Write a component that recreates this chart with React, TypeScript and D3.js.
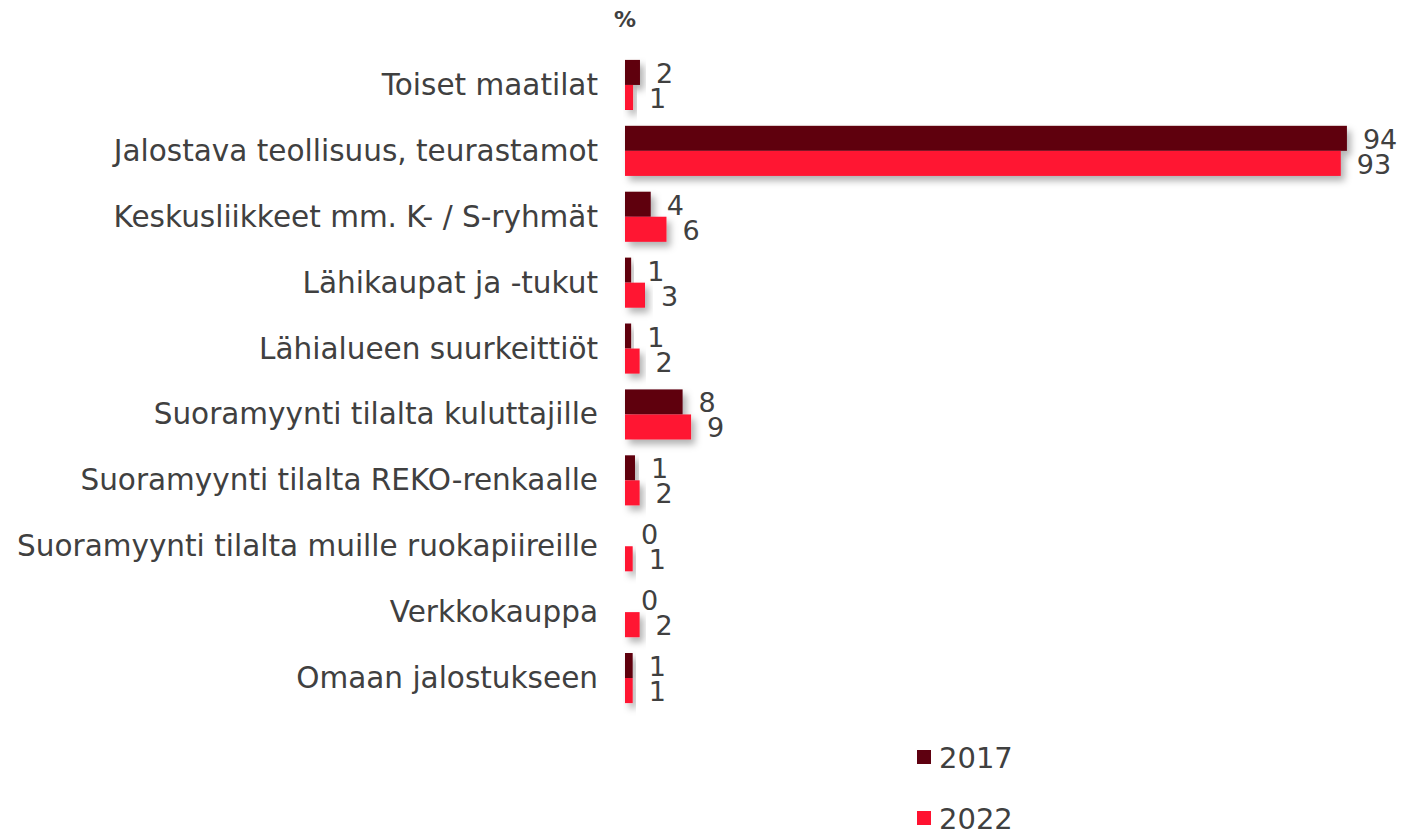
import React from "react";
import * as d3 from "d3";

const categories = [
  "Toiset maatilat",
  "Jalostava teollisuus, teurastamot",
  "Keskusliikkeet mm. K- / S-ryhmät",
  "Lähikaupat ja -tukut",
  "Lähialueen suurkeittiöt",
  "Suoramyynti tilalta kuluttajille",
  "Suoramyynti tilalta REKO-renkaalle",
  "Suoramyynti tilalta muille ruokapiireille",
  "Verkkokauppa",
  "Omaan jalostukseen",
];
const values2017 = [1.95, 94.0, 3.35, 0.8, 0.8, 7.5, 1.3, 0, 0, 1.0];
const values2022 = [1.05, 93.2, 5.4, 2.6, 1.9, 8.6, 1.9, 1.0, 1.9, 1.0];
const labels2017 = ["2", "94", "4", "1", "1", "8", "1", "0", "0", "1"];
const labels2022 = ["1", "93", "6", "3", "2", "9", "2", "1", "2", "1"];
const seriesNames = ["2017", "2022"];
const colors = ["#5e0010", "#ff1230"];

export default function App() {
  const W = 1401, H = 832;
  const x = d3.scaleLinear().domain([0, 100]).range([625, 625 + 768]);
  const y = d3.scaleBand<string>().domain(categories).range([52, 711]).paddingInner(0.24).paddingOuter(0.12);
  const sub = d3.scaleBand<string>().domain(seriesNames).range([0, y.bandwidth()]);
  const font = "'DejaVu Sans', Verdana, sans-serif";
  const textColor = "#404040";
  const series = [values2017, values2022];
  const labels = [labels2017, labels2022];
  return (
    <svg width={W} height={H} style={{ position: "absolute", left: 0, top: 0 }} fontFamily={font}>
      <defs>
        <filter id="sh" x="-20%" y="-30%" width="160%" height="190%">
          <feDropShadow dx="4" dy="5" stdDeviation="3.5" floodColor="#000" floodOpacity="0.3" />
        </filter>
      </defs>
      <rect width={W} height={H} fill="#fff" />
      <text x={625} y={27} fontSize={22} fontWeight="bold" fill={textColor} textAnchor="middle">%</text>
      {categories.map((c, i) => {
        const y0 = y(c)!;
        return (
          <g key={c}>
            <text x={598} y={y0 + y.bandwidth() / 2} fontSize={29.5} fill={textColor} textAnchor="end" dominantBaseline="central">{c}</text>
            {series.map((vals, s) => {
              const yy = y0 + sub(seriesNames[s])!;
              const w = x(vals[i]) - x(0);
              return (
                <g key={s}>
                  {w > 0 && (
                    <rect x={x(0)} y={yy} width={w} height={sub.bandwidth()} fill={colors[s]} filter="url(#sh)" />
                  )}
                  <text x={x(vals[i]) + 16} y={yy + sub.bandwidth() / 2 + 1} fontSize={27} fill={textColor} dominantBaseline="central">{labels[s][i]}</text>
                </g>
              );
            })}
          </g>
        );
      })}
      {seriesNames.map((n, s) => (
        <g key={n} transform={`translate(917, ${757 + s * 61})`}>
          <rect x={0} y={-7} width={14} height={14} fill={colors[s]} />
          <text x={22} y={1} fontSize={29} fill={textColor} dominantBaseline="central">{n}</text>
        </g>
      ))}
    </svg>
  );
}
